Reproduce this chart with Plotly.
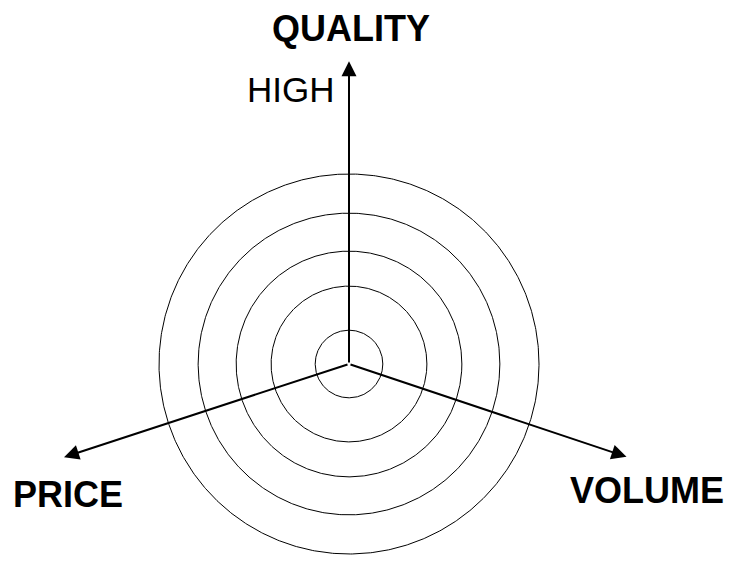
import numpy as np
import plotly.graph_objects as go

# ---- data ----
ring_radii = [0.89, 2.05, 2.97, 3.97, 5.0]
axis_names = ["QUALITY", "PRICE", "VOLUME"]
axis_angles_deg = [90.0, 198.1, 341.5]
axis_lengths = [7.97, 7.89, 7.70]
high_label = "HIGH"

# ---- layout constants (px per unit, center position) ----
W, H = 733, 562
OFF = 8.0  # default page body margin
PX = 38.0
CX, CY = 349.0 - OFF, 364.0 - OFF
xr = [-CX / PX, (W - CX) / PX]
yr = [-(H - CY) / PX, CY / PX]

fig = go.Figure()

theta = np.linspace(0, 2 * np.pi, 721)
for r in ring_radii:
    fig.add_trace(go.Scatter(
        x=r * np.cos(theta), y=r * np.sin(theta),
        mode="lines", line=dict(color="black", width=1),
        hoverinfo="skip", showlegend=False))

annotations = []
for name, ang, L in zip(axis_names, axis_angles_deg, axis_lengths):
    a = np.deg2rad(ang)
    tx, ty = L * np.cos(a), L * np.sin(a)
    annotations.append(dict(
        x=tx, y=ty, ax=0, ay=0, xref="x", yref="y", axref="x", ayref="y",
        text="", showarrow=True, arrowhead=2, arrowsize=1.5, arrowwidth=2,
        arrowcolor="black", standoff=0, startstandoff=0))


def px_to_data(px, py):
    return ((px - OFF) - CX) / PX, (CY - (py - OFF)) / PX


label_font_bold = dict(family="Liberation Sans, Arial, sans-serif", size=36, color="black")
label_pos = {
    "QUALITY": px_to_data(351, 28),
    "PRICE": px_to_data(68, 494),
    "VOLUME": px_to_data(647, 490),
}
for name in axis_names:
    x, y = label_pos[name]
    annotations.append(dict(
        x=x, y=y, xref="x", yref="y", text="<b>%s</b>" % name,
        showarrow=False, xanchor="center", yanchor="middle",
        font=label_font_bold))

hx, hy = px_to_data(290.5, 89)
annotations.append(dict(
    x=hx, y=hy, xref="x", yref="y", text=high_label,
    showarrow=False, xanchor="center", yanchor="middle",
    font=dict(family="Liberation Sans, Arial, sans-serif", size=35, color="black")))

fig.update_layout(
    width=W, height=H, autosize=False,
    margin=dict(l=0, r=0, t=0, b=0),
    paper_bgcolor="white", plot_bgcolor="white",
    xaxis=dict(range=xr, visible=False, fixedrange=True),
    yaxis=dict(range=yr, visible=False, fixedrange=True),
    annotations=annotations,
    showlegend=False,
)

fig.write_html("out.html")
